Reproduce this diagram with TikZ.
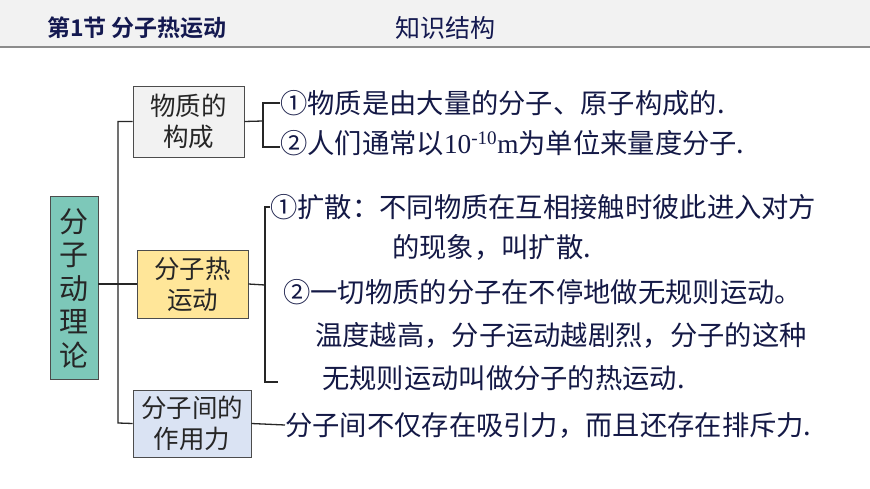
\documentclass[tikz,border=0pt]{standalone}
\usepackage{fontspec}
\newfontfamily\cjk{Noto Sans CJK SC}
\newfontfamily\cjkb{Noto Sans CJK SC Bold}
\newfontfamily\tnr{Liberation Serif}
\begin{document}
\begin{tikzpicture}[x=1pt,y=-1pt,
  box/.style={draw=black!70,line width=0.8pt,inner sep=0pt,font=\cjk\fontsize{25.5}{31}\selectfont,align=center,text=black!85},
  txt/.style={anchor=west,inner sep=0pt,font=\cjk\fontsize{27.3}{30}\selectfont,text={rgb,255:red,20;green,25;blue,70}},
  ln/.style={line width=1.3pt,black!85}]
\useasboundingbox (0,0) rectangle (870,489);
\fill[white] (0,0) rectangle (870,489);
\fill[black!5] (0,0) rectangle (870,47);
\draw[black!45,line width=1.5pt] (0,47) -- (870,47);
\node[anchor=west,inner sep=0pt,font=\cjkb\fontsize{23}{26}\selectfont,text={rgb,255:red,20;green,25;blue,80}] (t1) at (47,28) {第1节 分子热运动};
\node[anchor=west,inner sep=0pt,font=\cjk\fontsize{25}{28}\selectfont,text={rgb,255:red,20;green,25;blue,80}] (t2) at (395,28) {知识结构};
% boxes
\node[box,fill={rgb,255:red,125;green,200;blue,185},minimum width=48,minimum height=183,font=\cjk\fontsize{29}{33.5}\selectfont] (root) at (74,288) {分\\子\\动\\理\\论};
\node[box,fill=black!5,minimum width=111,minimum height=71] (b1) at (188.5,121.5) {物质的\\构成};
\node[box,fill={rgb,255:red,255;green,230;blue,153},minimum width=111,minimum height=68] (b2) at (192.5,284) {分子热\\运动};
\node[box,fill={rgb,255:red,218;green,227;blue,243},minimum width=118,minimum height=67] (b3) at (192,423.5) {分子间的\\作用力};
\coordinate (tt) at (118,129);
\coordinate (tb) at (118,423);
\draw[ln] (root.east |- b2.west) -- (b2.west);
\draw[ln] (b1.west) -| (tt) -- (tb) -- (b3.west);
% texts
\node[txt] (l1) at (280,103) {①物质是由大量的分子、原子构成的.};
\node[txt] (l2) at (280,143) {②人们通常以{\tnr 10\textsuperscript{-10}m}为单位来量度分子.};
\node[txt] (l3) at (270,207) {①扩散：不同物质在互相接触时彼此进入对方};
\node[txt] (l4) at (392,247) {的现象，叫扩散.};
\node[txt] (l5) at (283,292) {②一切物质的分子在不停地做无规则运动。};
\node[txt] (l6) at (315,335) {温度越高，分子运动越剧烈，分子的这种};
\node[txt] (l7) at (322,378) {无规则运动叫做分子的热运动.};
\node[txt] (l8) at (285,425) {分子间不仅存在吸引力，而且还存在排斥力.};
% brackets
\draw[ln] (b1.east) -- (263,121);
\draw[ln] (l1.west) -- (263,103) -- (263,147) -- (l2.west |- 0,147);
\draw[ln] (b2.east) -- (265,285);
\draw[ln] (l3.west) -- (265,207) -- (265,382) -- (278,382);
\draw[ln] (b3.east) -- (l8.west);
\end{tikzpicture}
\end{document}
